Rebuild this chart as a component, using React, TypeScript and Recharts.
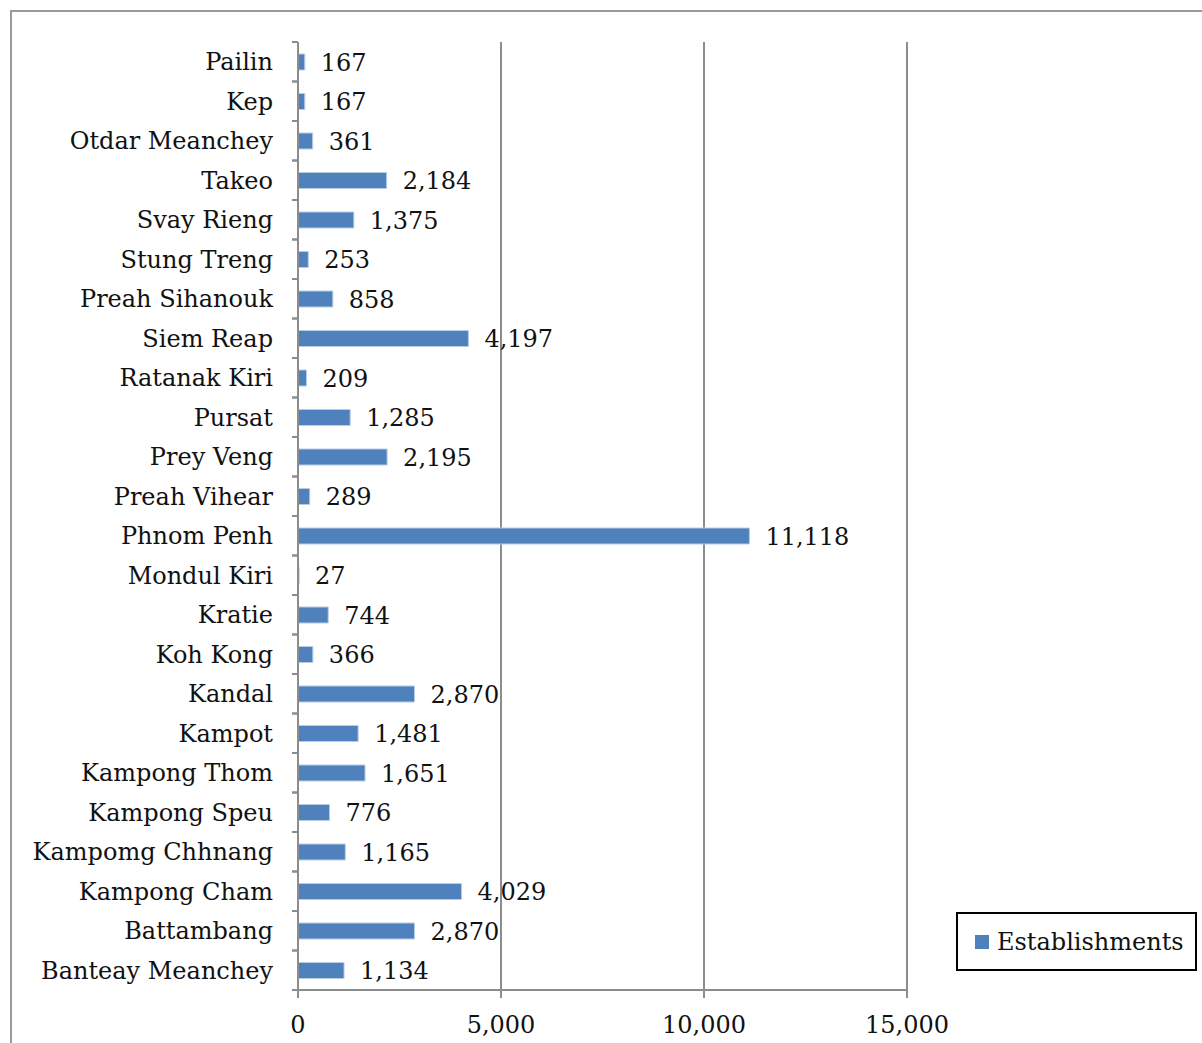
import { BarChart, Bar, XAxis, YAxis, CartesianGrid, LabelList } from 'recharts'

const provinces = [
  'Pailin', 'Kep', 'Otdar Meanchey', 'Takeo', 'Svay Rieng', 'Stung Treng',
  'Preah Sihanouk', 'Siem Reap', 'Ratanak Kiri', 'Pursat', 'Prey Veng',
  'Preah Vihear', 'Phnom Penh', 'Mondul Kiri', 'Kratie', 'Koh Kong', 'Kandal',
  'Kampot', 'Kampong Thom', 'Kampong Speu', 'Kampomg Chhnang', 'Kampong Cham',
  'Battambang', 'Banteay Meanchey',
]
const establishments = [
  167, 167, 361, 2184, 1375, 253,
  858, 4197, 209, 1285, 2195,
  289, 11118, 27, 744, 366, 2870,
  1481, 1651, 776, 1165, 4029,
  2870, 1134,
]
const xTicks = [0, 5000, 10000, 15000]

const data = provinces.map((name, i) => ({ name, value: establishments[i] }))

const F = '"DejaVu Serif", serif'
const BLUE = '#4f81bd'
const AXIS = '#8c8c8c'
const HALF_BAND = 948 / provinces.length / 2

const fmt = (v: number) => v.toLocaleString('en-US')

function ProvinceTick({ x, y, payload }: { x?: number; y?: number; payload?: { value: string } }) {
  const ax = 298
  return (
    <g>
      <line x1={ax - 6} x2={ax} y1={y! - HALF_BAND} y2={y! - HALF_BAND} stroke={AXIS} strokeWidth={2} />
      <line x1={ax - 6} x2={ax} y1={y! + HALF_BAND} y2={y! + HALF_BAND} stroke={AXIS} strokeWidth={2} />
      <text x={x} y={y} dy="0.35em" textAnchor="end" fontFamily={F} fontSize={24} fill="#111">
        {payload?.value}
      </text>
    </g>
  )
}

function LegendBox() {
  return (
    <div style={{
      position: 'absolute', left: 956, top: 912,
      border: '2px solid #000', width: 241, height: 59, boxSizing: 'border-box',
      display: 'flex', alignItems: 'center', paddingLeft: 17, background: '#fff',
    }}>
      <span style={{ display: 'inline-block', width: 14, height: 14, background: BLUE, marginRight: 8 }} />
      <span style={{ fontFamily: F, fontSize: 24, color: '#111' }}>Establishments</span>
    </div>
  )
}

export default function App() {
  return (
    <div style={{ position: 'fixed', left: 0, top: 0, width: 1202, height: 1043, overflow: 'hidden', background: '#fff' }}>
      <div style={{
        position: 'absolute', left: 10, top: 10, width: 1250, height: 1100,
        border: '2px solid #9a9a9a',
      }} />
      <div style={{ position: 'absolute', left: 0, top: 0 }}>
        <BarChart
          layout="vertical"
          width={1202}
          height={1043}
          data={data}
          margin={{ top: 42, right: 295, left: 0, bottom: 13 }}
          barSize={16}
        >
          <CartesianGrid horizontal={false} vertical stroke={AXIS} strokeWidth={2} />
          <XAxis
            type="number"
            domain={[0, 15000]}
            ticks={xTicks}
            tickFormatter={fmt}
            height={40}
            tickSize={8}
            tickMargin={18}
            axisLine={{ stroke: AXIS, strokeWidth: 2 }}
            tickLine={{ stroke: AXIS, strokeWidth: 2 }}
            tick={{ fontFamily: F, fontSize: 24, fill: '#111' }}
          />
          <YAxis
            type="category"
            dataKey="name"
            width={298}
            tickSize={6}
            tickMargin={19}
            axisLine={{ stroke: AXIS, strokeWidth: 2 }}
            tickLine={false}
            tick={<ProvinceTick />}
            interval={0}
          />
          <Bar dataKey="value" name="Establishments" fill={BLUE} stroke="#b8cce4" strokeWidth={1} isAnimationActive={false}>
            <LabelList
              dataKey="value"
              position="right"
              offset={16}
              formatter={(v: number) => fmt(v)}
              style={{ fontFamily: F, fontSize: 24, fill: '#111' }}
            />
          </Bar>
        </BarChart>
      </div>
      <LegendBox />
    </div>
  )
}
